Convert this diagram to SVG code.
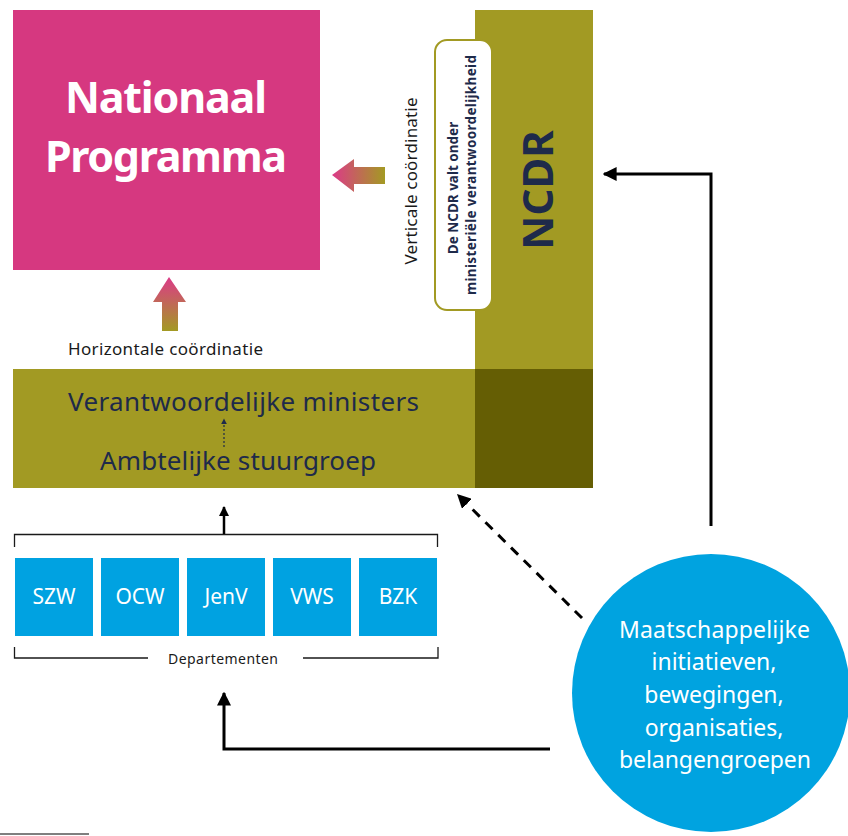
<svg xmlns="http://www.w3.org/2000/svg" width="848" height="836" viewBox="0 0 848 836">
<defs>
<style>
text{font-family:"Noto Sans","Open Sans",sans-serif}
.navy{fill:#1e2a4a}
.white{fill:#ffffff}
.dept rect{fill:#00a2e1}
.dept text{fill:#fff;font-size:21px;text-anchor:middle}
.con{fill:none;stroke:#000;stroke-width:3}
</style>
<linearGradient id="gLeft" x1="332" y1="0" x2="385" y2="0" gradientUnits="userSpaceOnUse">
<stop offset="0" stop-color="#dc3a88"/>
<stop offset="1" stop-color="#a39a23"/>
</linearGradient>
<linearGradient id="gUp" x1="0" y1="277" x2="0" y2="331" gradientUnits="userSpaceOnUse">
<stop offset="0" stop-color="#dc3a88"/>
<stop offset="1" stop-color="#a39a23"/>
</linearGradient>
<marker id="ah" viewBox="0 0 10 10" refX="9" refY="5" markerWidth="10" markerHeight="10" markerUnits="userSpaceOnUse" orient="auto">
<path d="M0,0 L10,5 L0,10 z" fill="#000"/>
</marker>
<marker id="ahL" viewBox="0 0 10 10" refX="9" refY="5" markerWidth="14" markerHeight="14" markerUnits="userSpaceOnUse" orient="auto">
<path d="M0,0 L10,5 L0,10 z" fill="#000"/>
</marker>
<marker id="ahS" viewBox="0 0 10 10" refX="9" refY="5" markerWidth="6" markerHeight="6" markerUnits="userSpaceOnUse" orient="auto">
<path d="M0,0 L10,5 L0,10 z" fill="#1e2a4a"/>
</marker>
</defs>

<g id="nationaal-programma">
<rect x="13" y="10" width="307" height="260" fill="#d63880"/>
<text x="166" y="113" text-anchor="middle" class="white" font-size="43" font-weight="bold" textLength="202">Nationaal</text>
<text x="166" y="172" text-anchor="middle" class="white" font-size="43" font-weight="bold" textLength="242">Programma</text>
</g>

<g id="ministers">
<rect x="13" y="369" width="462" height="119" fill="#a29a23"/>
<text x="243.5" y="411" text-anchor="middle" class="navy" font-size="26" textLength="351">Verantwoordelijke ministers</text>
<text x="238" y="470" text-anchor="middle" class="navy" font-size="26" textLength="276">Ambtelijke stuurgroep</text>
<line x1="224" y1="447" x2="224" y2="419" stroke="#1e2a4a" stroke-width="1.2" stroke-dasharray="2,2" marker-end="url(#ahS)"/>
</g>

<g id="ncdr">
<rect x="475" y="10" width="118" height="359" fill="#a29a23"/>
<rect x="475" y="369" width="118" height="119" fill="#655e04"/>
<text transform="translate(553,190) rotate(-90)" text-anchor="middle" class="navy" font-size="42" font-weight="bold">NCDR</text>
</g>

<g id="ncdr-note">
<rect x="435" y="40" width="57" height="270" rx="12" ry="12" fill="#fff" stroke="#a29a23" stroke-width="2"/>
<text transform="translate(458,188) rotate(-90)" text-anchor="middle" class="navy" font-size="13.5" font-weight="bold">De NCDR valt onder</text>
<text transform="translate(476,175) rotate(-90)" text-anchor="middle" class="navy" font-size="13.5" font-weight="bold" textLength="240">ministeriële verantwoordelijkheid</text>
</g>

<g id="verticale-coordinatie">
<path d="M332,175 L354,159 L354,167 L385,167 L385,184 L354,184 L354,192 Z" fill="url(#gLeft)"/>
<text transform="translate(417,181) rotate(-90)" text-anchor="middle" fill="#1a1a1a" font-size="17" textLength="167">Verticale coördinatie</text>
</g>

<g id="horizontale-coordinatie">
<path d="M169,277 L186,302 L178,302 L178,331 L162,331 L162,302 L153,302 Z" fill="url(#gUp)"/>
<text x="165.5" y="355" text-anchor="middle" fill="#1a1a1a" font-size="17" textLength="195">Horizontale coördinatie</text>
</g>

<g id="departementen">
<g class="dept" id="szw"><rect x="15" y="558" width="78" height="78"/><text x="54" y="604">SZW</text></g>
<g class="dept" id="ocw"><rect x="101" y="558" width="78" height="78"/><text x="140" y="604">OCW</text></g>
<g class="dept" id="jenv"><rect x="187" y="558" width="78" height="78"/><text x="226" y="604">JenV</text></g>
<g class="dept" id="vws"><rect x="273" y="558" width="78" height="78"/><text x="312" y="604">VWS</text></g>
<g class="dept" id="bzk"><rect x="359" y="558" width="78" height="78"/><text x="398" y="604">BZK</text></g>
<path d="M14.5,547 L14.5,534.5 L437.5,534.5 L437.5,547" fill="none" stroke="#1a1a1a" stroke-width="1.3"/>
<path d="M14.5,647 L14.5,658 L148,658 M303,658 L438,658 L438,647" fill="none" stroke="#1a1a1a" stroke-width="1.3"/>
<text x="223" y="664" text-anchor="middle" fill="#1a1a1a" font-size="14" textLength="110">Departementen</text>
</g>

<g id="maatschappij">
<circle cx="711" cy="693" r="139" fill="#00a3e0"/>
<g class="white" font-size="23" text-anchor="middle">
<text x="714.5" y="638" textLength="191">Maatschappelijke</text>
<text x="714" y="670">initiatieven,</text>
<text x="714" y="703">bewegingen,</text>
<text x="714" y="736">organisaties,</text>
<text x="715" y="768" textLength="192">belangengroepen</text>
</g>
</g>

<g id="connectors">
<line x1="224" y1="534" x2="224" y2="507" stroke="#000" stroke-width="2.5" marker-end="url(#ah)"/>
<path class="con" d="M711,526 L711,174 L604,174" marker-end="url(#ahL)"/>
<path class="con" d="M550,749 L224,749 L224,693" marker-end="url(#ahL)"/>
<line x1="582" y1="618" x2="458" y2="495" stroke="#000" stroke-width="3" stroke-dasharray="10,8" marker-end="url(#ahL)"/>
</g>

<line x1="0" y1="834" x2="89" y2="834" stroke="#555" stroke-width="1.5"/>
</svg>
